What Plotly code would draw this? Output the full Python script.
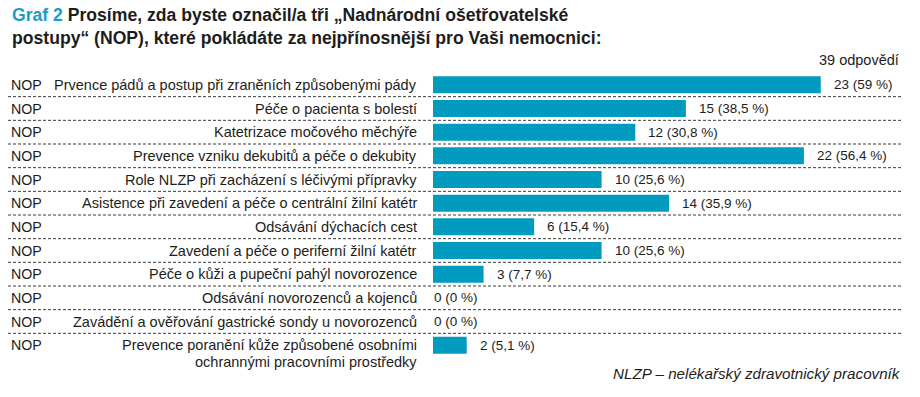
import plotly.graph_objects as go

# ---- data ----
categories = [
    "Prvence pádů a postup při zraněních způsobenými pády",
    "Péče o pacienta s bolestí",
    "Katetrizace močového měchýře",
    "Prevence vzniku dekubitů a péče o dekubity",
    "Role NLZP při zacházení s léčivými přípravky",
    "Asistence při zavedení a péče o centrální žilní katétr",
    "Odsávání dýchacích cest",
    "Zavedení a péče o periferní žilní katétr",
    "Péče o kůži a pupeční pahýl novorozence",
    "Odsávání novorozenců a kojenců",
    "Zavádění a ověřování gastrické sondy u novorozenců",
    "Prevence poranění kůže způsobené osobními<br>ochrannými pracovními prostředky",
]
counts = [23, 15, 12, 22, 10, 14, 6, 10, 3, 0, 0, 2]
percents = ["59", "38,5", "30,8", "56,4", "25,6", "35,9", "15,4", "25,6", "7,7", "0", "0", "5,1"]
prefix = "NOP"
title_l1 = "Prosíme, zda byste označil/a tři „Nadnárodní ošetřovatelské"
title_l2 = "postupy“ (NOP), které pokládáte za nejpřínosnější pro Vaši nemocnici:"
title_tag = "Graf 2"
responses = "39 odpovědí"
footnote = "NLZP – nelékařský zdravotnický pracovník"

# ---- layout geometry ----
W, H = 920, 397
ML, MR, MT, MB = 433, 20, 73, 40
PW = W - ML - MR
PH = H - MT - MB
XMAX = 27.7

BAR = "#009bbf"
TEAL = "#1b9cc4"
TXT = "#1d1d1b"
FONT = "Liberation Sans, Arial, sans-serif"


def px_x(px):
    return (px - ML) / PW


def px_y(py):
    return (H - MB - py) / PH


rows = list(range(len(categories)))

fig = go.Figure(go.Bar(
    x=counts, y=rows, orientation="h",
    marker=dict(color=BAR, line=dict(width=0)),
    width=0.72, hoverinfo="skip",
))

annotations = []
shapes = []
for i, (cat, c, p) in enumerate(zip(categories, counts, percents)):
    lines = cat.split("<br>")
    annotations.append(dict(
        x=px_x(9), xref="paper", y=i, yref="y", text=prefix,
        xanchor="left", yanchor="middle", showarrow=False,
        font=dict(size=14.2, color=TXT, family=FONT)))
    annotations.append(dict(
        x=px_x(419), xref="paper", y=i, yref="y", text=lines[0],
        xanchor="right", yanchor="middle", showarrow=False,
        font=dict(size=14.5, color=TXT, family=FONT)))
    for k, extra in enumerate(lines[1:], start=1):
        annotations.append(dict(
            x=px_x(419), xref="paper", y=i, yref="y", text=extra,
            xanchor="right", yanchor="middle", showarrow=False, yshift=-17 * k,
            font=dict(size=14.5, color=TXT, family=FONT)))
    annotations.append(dict(
        x=c, xref="x", y=i, yref="y", text=f"{c} ({p} %)",
        xanchor="left", yanchor="middle", showarrow=False,
        xshift=11 if c > 0 else -1,
        font=dict(size=13.5, color=TXT, family=FONT)))
    if i < len(categories) - 1:
        shapes.append(dict(
            type="line", xref="paper", yref="y",
            x0=px_x(8), x1=px_x(901), y0=i + 0.5, y1=i + 0.5,
            line=dict(color="#3a3a3a", width=1, dash="3px,2px")))

annotations += [
    dict(x=px_x(10), xref="paper", y=px_y(26.5), yref="paper",
         text=f"<b><span style='color:{TEAL}'>{title_tag}</span> {title_l1}<br>{title_l2}</b>",
         xanchor="left", yanchor="middle", align="left", showarrow=False,
         font=dict(size=17.6, color=TXT, family=FONT)),
    dict(x=px_x(901), xref="paper", y=px_y(60), yref="paper",
         text=responses, xanchor="right", yanchor="middle", showarrow=False,
         font=dict(size=14.5, color=TXT, family=FONT)),
    dict(x=px_x(903), xref="paper", y=px_y(373), yref="paper",
         text=f"<i>{footnote}</i>", xanchor="right", yanchor="middle", showarrow=False,
         font=dict(size=15.2, color=TXT, family=FONT)),
]

fig.update_layout(
    width=W, height=H,
    margin=dict(l=ML, r=MR, t=MT, b=MB, pad=0),
    paper_bgcolor="white", plot_bgcolor="white",
    showlegend=False,
    xaxis=dict(range=[0, XMAX], visible=False, fixedrange=True),
    yaxis=dict(range=[len(categories) - 0.5, -0.5], visible=False, fixedrange=True),
    annotations=annotations,
    shapes=shapes,
    font=dict(family=FONT, color=TXT),
)

fig.write_html("out.html", config={"displayModeBar": False},
               post_script="document.body.style.margin='0';document.body.style.overflow='hidden';")
